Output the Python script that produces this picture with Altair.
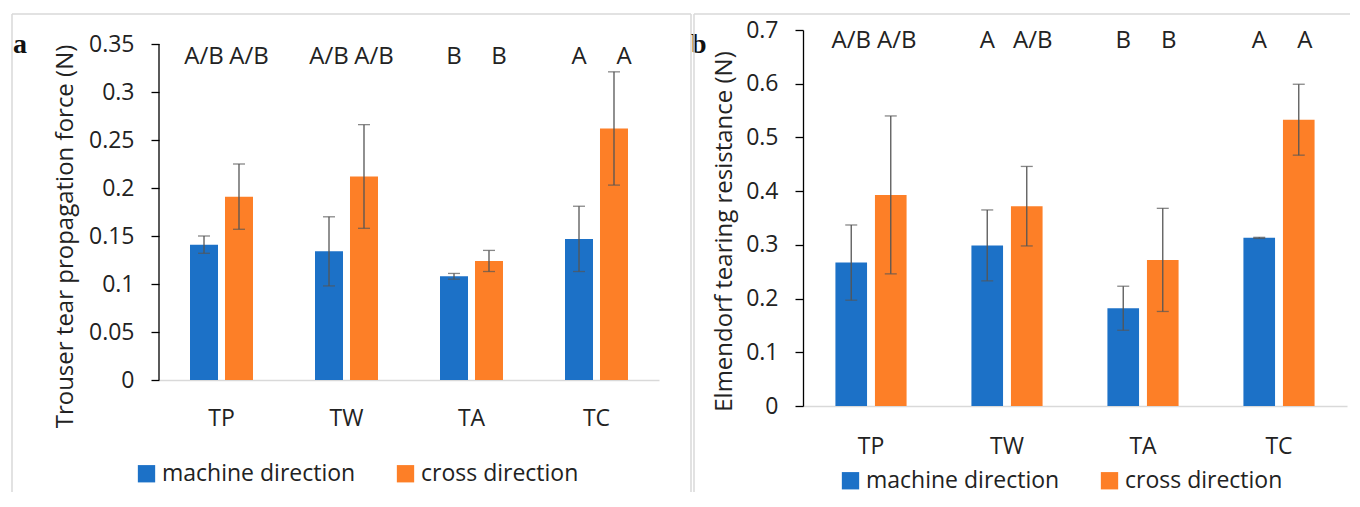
import altair as alt
import pandas as pd

# ---------------- data ----------------
categories = ["TP", "TW", "TA", "TC"]
series = ["machine direction", "cross direction"]

trouser_md = [0.141, 0.134, 0.108, 0.147]
trouser_md_err = [0.009, 0.036, 0.003, 0.034]
trouser_cd = [0.191, 0.212, 0.124, 0.262]
trouser_cd_err = [0.034, 0.054, 0.011, 0.059]
trouser_md_letters = ["A/B", "A/B", "B", "A"]
trouser_cd_letters = ["A/B", "A/B", "B", "A"]

elmendorf_md = [0.267, 0.299, 0.182, 0.313]
elmendorf_md_err = [0.070, 0.066, 0.041, 0.001]
elmendorf_cd = [0.393, 0.372, 0.272, 0.533]
elmendorf_cd_err = [0.147, 0.074, 0.096, 0.066]
elmendorf_md_letters = ["A/B", "A", "B", "A"]
elmendorf_cd_letters = ["A/B", "A/B", "B", "A"]

trouser_ticks = [0, 0.05, 0.1, 0.15, 0.2, 0.25, 0.3, 0.35]
elmendorf_ticks = [0, 0.1, 0.2, 0.3, 0.4, 0.5, 0.6, 0.7]

trouser_title = "Trouser tear propagation force (N)"
elmendorf_title = "Elmendorf tearing resistance (N)"

# ---------------- style ----------------
BLUE = "#1C71C7"
ORANGE = "#FD7F27"
ERR = "#555555"
TEXT = "#222222"
BORDER = "#d9d9d9"
FONT = "Open Sans"


def table(md, md_err, cd, cd_err, md_let, cd_let):
    rows = []
    for i, c in enumerate(categories):
        rows.append(dict(cat=c, series=series[0], value=md[i],
                         lo=md[i] - md_err[i], hi=md[i] + md_err[i], letter=md_let[i]))
        rows.append(dict(cat=c, series=series[1], value=cd[i],
                         lo=cd[i] - cd_err[i], hi=cd[i] + cd_err[i], letter=cd_let[i]))
    return pd.DataFrame(rows)


def panel(df, ytitle, ticks, ymax, width, height, pad_outer, title_x, title_y,
          xlabel_pad, legend_x, legend_y, letter, letter_x, letter_y,
          label_y, cd_dx, borders, axis_rule):
    x = alt.X("cat:N", sort=categories,
              scale=alt.Scale(paddingInner=0, paddingOuter=0),
              axis=alt.Axis(title=None, labelFont=FONT, labelFontSize=23,
                            labelColor=TEXT, labelAngle=0, labelPadding=xlabel_pad,
                            ticks=False, tickSize=0, domainColor=BORDER,
                            domainWidth=1.5))
    xo = alt.XOffset("series:N", sort=series,
                     scale=alt.Scale(paddingInner=0.2, paddingOuter=pad_outer))
    yscale = alt.Scale(domain=[0, ymax], nice=False, zero=True)
    yaxis = alt.Axis(title=ytitle, values=ticks, format="~g",
                     labelFont=FONT, labelFontSize=23, labelColor=TEXT,
                     labelPadding=17, tickSize=8, tickColor="#000000",
                     tickWidth=1.3, grid=False,
                     domain=not axis_rule, domainColor="#000000",
                     domainWidth=1.3,
                     titleFont=FONT, titleFontSize=24,
                     titleFontWeight="normal", titleColor=TEXT,
                     titleAngle=270, titleAlign="center",
                     titleBaseline="middle", titleX=title_x,
                     titleY=title_y)

    def Y(field):
        return alt.Y(field, scale=yscale, axis=yaxis, title=ytitle)

    color = alt.Color("series:N", sort=series,
                      scale=alt.Scale(domain=series, range=[BLUE, ORANGE]),
                      legend=alt.Legend(title=None, orient="none",
                                        legendX=legend_x, legendY=legend_y,
                                        direction="horizontal",
                                        symbolType="square", symbolSize=300,
                                        symbolStrokeWidth=0, labelFont=FONT,
                                        labelFontSize=23, labelColor=TEXT,
                                        labelOffset=4, labelLimit=400,
                                        columnPadding=38, padding=0))

    base = alt.Chart(df)
    bars = base.mark_bar().encode(x=x, xOffset=xo, y=Y("value:Q"), color=color)
    stems = base.mark_rule(color=ERR, strokeWidth=1.3).encode(
        x=x, xOffset=xo, y=Y("lo:Q"), y2="hi:Q")
    caps_lo = base.mark_tick(color=ERR, thickness=1.3, size=12).encode(
        x=x, xOffset=xo, y=Y("lo:Q"))
    caps_hi = base.mark_tick(color=ERR, thickness=1.3, size=12).encode(
        x=x, xOffset=xo, y=Y("hi:Q"))
    lab_md = base.transform_filter(alt.datum.series == series[0]).mark_text(
        font=FONT, fontSize=24, color=TEXT, baseline="alphabetic").encode(
        x=x, xOffset=xo, y=alt.value(label_y), text="letter:N")
    lab_cd = base.transform_filter(alt.datum.series == series[1]).mark_text(
        font=FONT, fontSize=24, color=TEXT, baseline="alphabetic", dx=cd_dx).encode(
        x=x, xOffset=xo, y=alt.value(label_y), text="letter:N")

    one = pd.DataFrame({"t": [letter]})
    letter_mark = alt.Chart(one).mark_text(
        font="Liberation Serif", fontWeight="bold", fontSize=28, color="#111111",
        align="left", baseline="alphabetic").encode(
        x=alt.value(letter_x), y=alt.value(letter_y), text="t:N")

    layers = [bars, stems, caps_lo, caps_hi, lab_md, lab_cd, letter_mark]

    for (x1, x2, y1, y2) in borders:
        enc = dict(x=alt.value(x1), y=alt.value(y1))
        if x2 is not None:
            enc["x2"] = alt.value(x2)
        if y2 is not None:
            enc["y2"] = alt.value(y2)
        layers.append(alt.Chart(one).mark_rule(color=BORDER, strokeWidth=1.5).encode(**enc))

    if axis_rule:
        ax = pd.DataFrame({"value": [0.0], "top": [ticks[-1]]})
        layers.append(alt.Chart(ax).mark_rule(color="#000000", strokeWidth=1.3).encode(
            x=alt.value(0), y=Y("value:Q"), y2="top:Q"))

    return alt.layer(*layers).properties(width=width, height=height)


df_a = table(trouser_md, trouser_md_err, trouser_cd, trouser_cd_err,
             trouser_md_letters, trouser_cd_letters)
df_b = table(elmendorf_md, elmendorf_md_err, elmendorf_cd, elmendorf_cd_err,
             elmendorf_md_letters, elmendorf_cd_letters)

# panel a: plot area 500 x 350 (0.35 sits 14px below the top)
panel_a = panel(df_a, trouser_title, trouser_ticks, 0.35 * 350 / 336, 500, 350,
                0.886, -94, 206, 27, -24, 432, "a", -146, 23, 34, 10,
                borders=[(-147, None, -16, 462), (-147, 532, -16, None),
                         (532, None, -16, 462)],
                axis_rule=True)

panel_b = panel(df_b, elmendorf_title, elmendorf_ticks, 0.7, 544, 376,
                0.82, -79, 201, 29, 36, 439, "b", -112, 23, 18, 6,
                borders=[(-109, None, -16, 462), (-109, 547, -16, None)],
                axis_rule=False)

chart = alt.hconcat(panel_a, panel_b, spacing=144, bounds="flush").resolve_scale(
    color="independent", x="independent", y="independent", xOffset="independent"
).resolve_legend(color="independent").properties(
    padding={"left": 2, "top": 4, "right": 0, "bottom": 0},
    background="white"
).configure_view(stroke="transparent")

chart.save("out.html", embed_options={"renderer": "svg", "actions": False})
